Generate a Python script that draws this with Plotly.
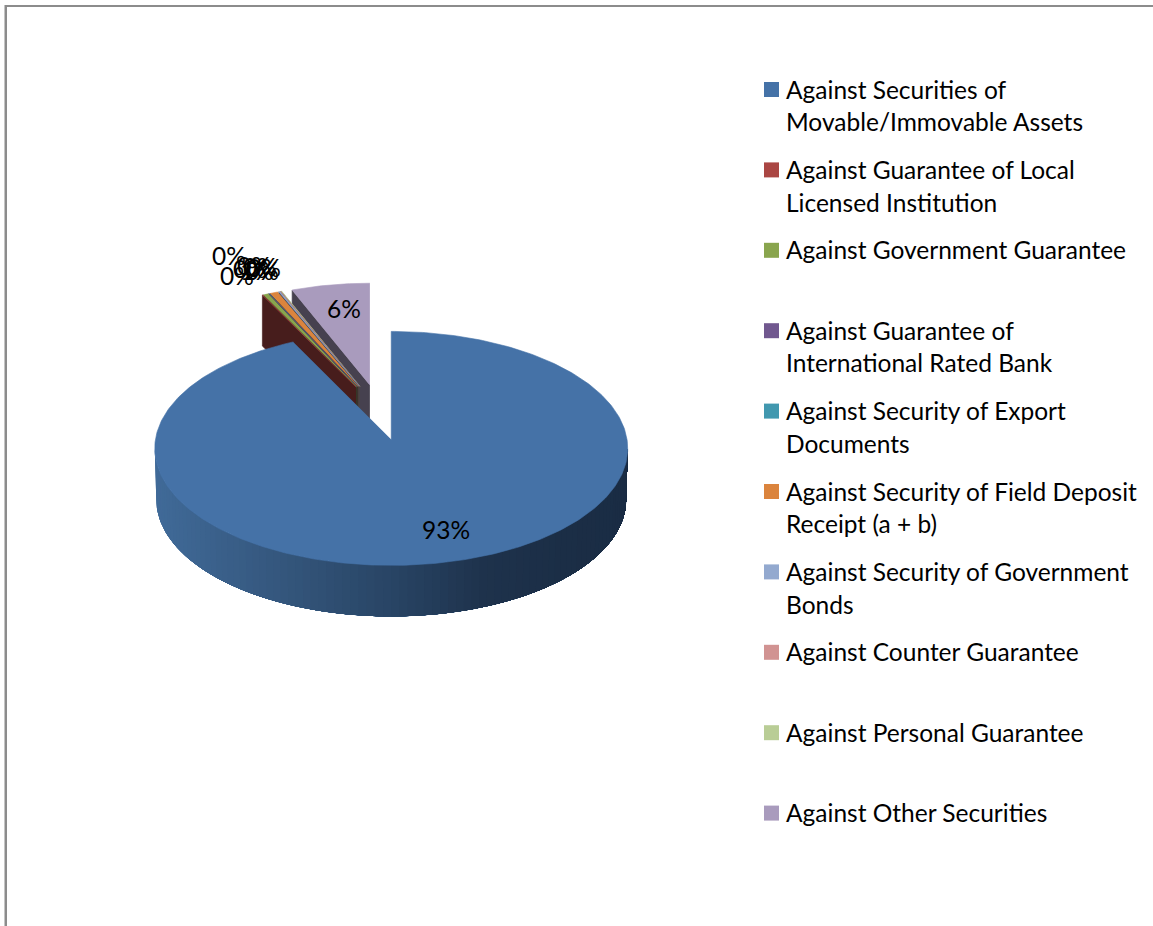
import numpy as np
import plotly.graph_objects as go

# Loan-security categories, clockwise from twelve o'clock
legend_lines = [
    ["Against Securities of", "Movable/Immovable Assets"],
    ["Against Guarantee of Local", "Licensed Institution"],
    ["Against Government Guarantee"],
    ["Against Guarantee of", "International Rated Bank"],
    ["Against Security of Export", "Documents"],
    ["Against Security of Field Deposit", "Receipt (a + b)"],
    ["Against Security of Government", "Bonds"],
    ["Against Counter Guarantee"],
    ["Against Personal Guarantee"],
    ["Against Other Securities"],
]
shares = [93.2, 0.05, 0.35, 0.02, 0.02, 0.55, 0.10, 0.05, 0.06, 5.6]
colors = ["#4572A7", "#AA4643", "#89A54E", "#71588F", "#4198AF",
          "#DB843D", "#93A9CF", "#D19392", "#B9CD96", "#A99BBD"]

# Pie projection, in page pixels
CENTER = (380.0, 413.5)
explode = [53, 58, 58, 58, 58, 58, 58, 58, 58, 58]
TILT = 0.5
APEX_SHIFT = 9.0
DEPTH = 51.0
FONT = "Lato"
FONT_SIZE = 24.5
LABEL_NUDGE = 4.0
LEGEND_NUDGE = 3.0

# Data-label anchors for each slice
label_xy = [(446, 529), (229, 255), (237, 275), (250, 268), (254, 265),
            (257, 270), (260, 266), (262, 270), (264, 267), (344, 308)]


def slice_geometry(index):
    start = sum(shares[:index]) * 3.6
    sweep = shares[index] * 3.6
    mid = np.radians(90 - start - sweep / 2)
    dx = explode[index] * np.cos(mid)
    dy = -explode[index] * TILT * np.sin(mid)
    apex = (CENTER[0] + dx, CENTER[1] + dy)
    rx = 236.5 + 0.2 * (dy - 26)
    ry = 117 + 0.115 * (dy - 26)
    return apex, rx, ry, 90 - start, 90 - start - sweep


def arc(apex, rx, ry, a0, a1, n=120):
    t = np.radians(np.linspace(a0, a1, n))
    return apex[0] + rx * np.cos(t), apex[1] + APEX_SHIFT - ry * np.sin(t)


def shade(hex_color, factor):
    rgb = [int(hex_color[i:i + 2], 16) for i in (1, 3, 5)]
    return "rgb({},{},{})".format(*[int(c * factor) for c in rgb])


def polygon(xs, ys, color, width=0.6):
    return go.Scatter(x=list(xs), y=list(ys), mode="lines", fill="toself",
                      fillcolor=color, line=dict(color=color, width=width),
                      hoverinfo="skip", showlegend=False)


def rim_color(x):
    stops_x = [155, 280, 390, 480, 560, 628]
    r = np.interp(x, stops_x, [64, 52, 40, 30, 27, 26])
    g = np.interp(x, stops_x, [106, 86, 68, 50, 46, 44])
    b = np.interp(x, stops_x, [152, 124, 100, 76, 70, 68])
    return f"rgb({r:.0f},{g:.0f},{b:.0f})"


fig = go.Figure()

# Pulled-out small slices, back to front: cut face first, then the top
for i in range(len(shares) - 1, 0, -1):
    apex, rx, ry, a0, a1 = slice_geometry(i)
    ax, ay = arc(apex, rx, ry, a0, a1, 40)
    edge_x, edge_y = ax[0], ay[0]
    fig.add_trace(polygon(
        [apex[0], edge_x, edge_x, apex[0]],
        [apex[1], edge_y, edge_y + DEPTH, apex[1] + DEPTH],
        shade(colors[i], 0.42)))
    fig.add_trace(polygon(np.r_[apex[0], ax], np.r_[apex[1], ay], colors[i]))

# Largest slice: outer rim painted left to right, each band covering the rest
# of the rim so the shading has no seams, then the top
apex, rx, ry, a0, a1 = slice_geometry(0)
for start_angle in np.linspace(180, 358, 90):
    tx, ty = arc(apex, rx, ry, start_angle, 360, 160)
    bx, by = arc(apex, rx - 1.5, ry, 360, start_angle, 160)
    fig.add_trace(polygon(np.r_[tx, bx], np.r_[ty, by + DEPTH],
                          rim_color(tx[0]), width=0))
ax, ay = arc(apex, rx, ry, a0, a1, 400)
fig.add_trace(polygon(np.r_[apex[0], ax], np.r_[apex[1], ay], colors[0]))

# Percentage labels
fig.add_trace(go.Scatter(
    x=[p[0] for p in label_xy],
    y=[p[1] + LABEL_NUDGE for p in label_xy],
    mode="text",
    text=[f"{round(v):d}%" for v in shares],
    textposition="middle center",
    textfont=dict(family=FONT, size=FONT_SIZE, color="#000000"),
    hoverinfo="skip", showlegend=False))

# Legend column
legend_top = 89.5
legend_step = 80.4
line_step = 32.6
for i, lines in enumerate(legend_lines):
    y0 = legend_top + i * legend_step
    fig.add_trace(go.Scatter(
        x=[771.5], y=[y0], mode="markers",
        marker=dict(symbol="square", size=15, color=colors[i]),
        hoverinfo="skip", showlegend=False))
    fig.add_trace(go.Scatter(
        x=[786] * len(lines),
        y=[y0 + LEGEND_NUDGE + k * line_step for k in range(len(lines))],
        mode="text", text=lines, textposition="middle right",
        textfont=dict(family=FONT, size=FONT_SIZE, color="#000000"),
        hoverinfo="skip", showlegend=False))

# Frame along the top and left of the page
frame = [
    dict(type="rect", x0=5, x1=1153, y0=5, y1=7, fillcolor="#8C8C8C", line_width=0, layer="below"),
    dict(type="rect", x0=4, x1=5, y0=5, y1=926, fillcolor="#C4C4C4", line_width=0, layer="below"),
    dict(type="rect", x0=5, x1=7, y0=5, y1=926, fillcolor="#8C8C8C", line_width=0, layer="below"),
]

fig.update_layout(
    width=1153, height=926, autosize=False,
    margin=dict(l=0, r=0, t=0, b=0),
    paper_bgcolor="#FFFFFF", plot_bgcolor="#FFFFFF",
    shapes=frame,
    xaxis=dict(range=[0, 1153], visible=False, fixedrange=True),
    yaxis=dict(range=[926, 0], visible=False, fixedrange=True),
)

fig.write_html("out.html", config=dict(displayModeBar=False))
